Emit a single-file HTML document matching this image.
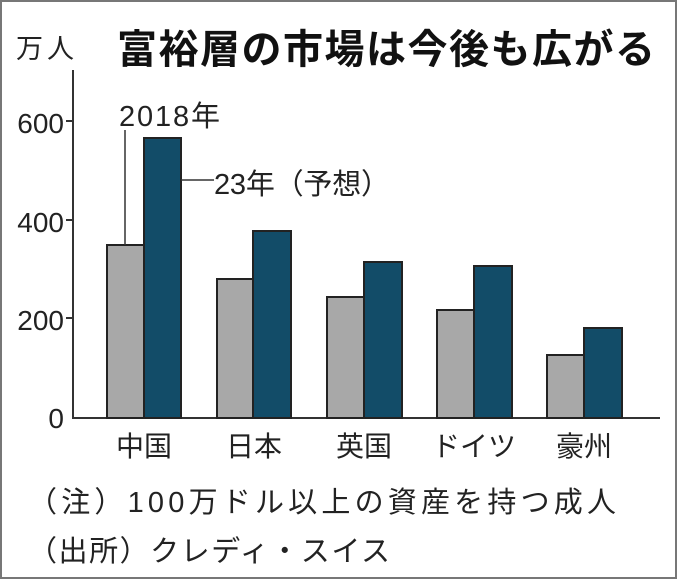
<!DOCTYPE html>
<html><head><meta charset="utf-8"><style>
body{margin:0;background:#fff}
svg text{font-family:"Liberation Sans","Noto Sans CJK JP",sans-serif;fill:#222}
</style></head><body>
<svg width="680" height="583" viewBox="0 0 680 583" xmlns="http://www.w3.org/2000/svg">
<rect x="1" y="1" width="675" height="577" fill="#fff" stroke="#777" stroke-width="2"/>
<text x="16" y="58" font-size="27" letter-spacing="4">万人</text>
<text x="117" y="63" font-size="40" font-weight="bold" textLength="538" style="fill:#111">富裕層の市場は今後も広がる</text>
<g stroke="#333" stroke-width="2" fill="none">
<path d="M73 70V418H660"/>
<path d="M66 121H73M66 220H73M66 318H73"/>
</g>
<g font-size="28" text-anchor="end">
<text x="64" y="133">600</text>
<text x="64" y="232">400</text>
<text x="64" y="330">200</text>
<text x="64" y="428">0</text>
</g>
<g stroke="#222" stroke-width="2">
<rect x="107" y="245" width="37" height="173" fill="#a8a8a8"/>
<rect x="144" y="138" width="37" height="280" fill="#124c68"/>
<rect x="217" y="279" width="36" height="139" fill="#a8a8a8"/>
<rect x="253" y="231" width="38" height="187" fill="#124c68"/>
<rect x="327" y="297" width="37" height="121" fill="#a8a8a8"/>
<rect x="364" y="262" width="38" height="156" fill="#124c68"/>
<rect x="437" y="310" width="37" height="108" fill="#a8a8a8"/>
<rect x="474" y="266" width="38" height="152" fill="#124c68"/>
<rect x="547" y="355" width="37" height="63" fill="#a8a8a8"/>
<rect x="584" y="328" width="38" height="90" fill="#124c68"/>
</g>
<g stroke="#333" stroke-width="1.5">
<path d="M125 130V245"/>
<path d="M181 180H214"/>
</g>
<text x="119" y="126" font-size="29" textLength="101">2018年</text>
<text x="214" y="194" font-size="29" textLength="176">23年（予想）</text>
<g font-size="28" text-anchor="middle">
<text x="144" y="456">中国</text>
<text x="254" y="456">日本</text>
<text x="364" y="456">英国</text>
<text x="474" y="456">ドイツ</text>
<text x="584" y="456">豪州</text>
</g>
<text x="28" y="512" font-size="29" textLength="588">（注）100万ドル以上の資産を持つ成人</text>
<text x="28" y="561" font-size="29" textLength="362">（出所）クレディ・スイス</text>
</svg>
</body></html>
